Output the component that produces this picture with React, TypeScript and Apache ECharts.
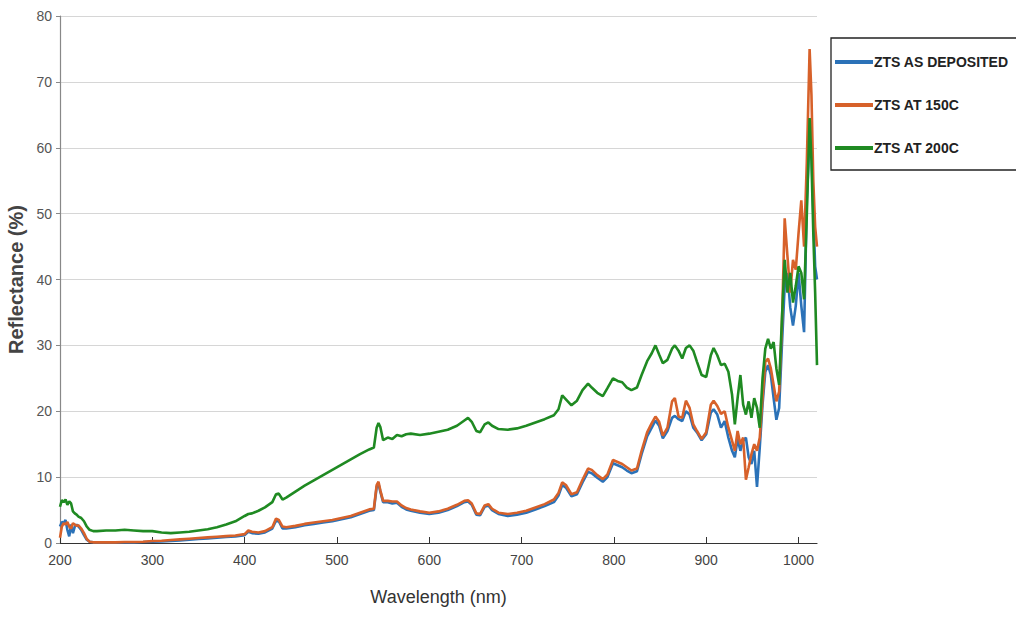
import React, { useEffect, useRef } from "react";
import * as echarts from "echarts";

const wavelengths = [
  200, 202, 204, 206, 208, 210, 212, 214, 216, 218, 220, 223, 226, 229, 232, 236, 240, 250, 260, 270,
  280, 290, 300, 310, 320, 330, 340, 350, 360, 370, 380, 390, 400, 404, 408, 415, 422, 430, 434, 437,
  441, 445, 455, 465, 475, 485, 495, 505, 515, 525, 535, 540, 543, 545, 547, 550, 555, 560, 565, 570,
  575, 580, 590, 600, 610, 620, 630, 638, 642, 646, 651, 655, 660, 664, 668, 675, 685, 695, 705, 715,
  725, 735, 740, 744, 748, 754, 760, 766, 772, 776, 782, 788, 793, 799, 804, 809, 814, 819, 825, 830,
  836, 841, 845, 849, 853, 858, 863, 866, 870, 874, 878, 882, 886, 890, 895, 900, 905, 908, 912, 916,
  920, 924, 928, 931, 934, 937, 940, 943, 946, 949, 952, 955, 958, 961, 964, 967, 970, 973, 976, 979,
  982, 985, 988, 991, 994, 997, 1000, 1003, 1006, 1009, 1012, 1014, 1016, 1018, 1020,
];

const asDeposited = [
  2.5, 3.2, 3.0, 3.5, 2.0, 1.0, 2.8, 1.5, 2.5, 2.8, 2.5, 2.0, 1.2, 0.5, 0.2, 0.1, 0.1, 0.1, 0.1, 0.1,
  0.1, 0.15, 0.2, 0.25, 0.3, 0.4, 0.5, 0.6, 0.7, 0.8, 0.9, 1.0, 1.2, 1.7, 1.5, 1.4, 1.6, 2.2, 3.4, 3.3,
  2.2, 2.2, 2.4, 2.7, 2.9, 3.1, 3.3, 3.6, 3.9, 4.4, 4.9, 5.0, 8.5, 9.0, 7.8, 6.2, 6.2, 6.0, 6.1, 5.5,
  5.1, 4.9, 4.6, 4.4, 4.6, 5.0, 5.6, 6.2, 6.3, 5.8, 4.3, 4.2, 5.5, 5.7, 5.0, 4.4, 4.1, 4.3, 4.6, 5.1,
  5.6, 6.2, 7.2, 8.8, 8.4, 7.1, 7.4, 9.2, 10.8, 10.6, 9.9, 9.3, 10.0, 12.1, 11.8, 11.5, 11.0, 10.6, 10.9, 13.5,
  16.2, 17.5, 18.6, 17.8, 15.9, 17.0, 19.0, 19.3, 18.8, 18.5, 20.0, 19.5, 17.5, 16.8, 15.6, 16.5, 19.8, 20.3, 19.5, 17.5,
  18.5, 16.0, 14.0, 13.0, 15.8, 14.0, 15.5, 16.0, 13.0, 12.0, 14.0, 8.5, 14.5, 21.0, 26.0, 27.0, 25.5, 22.0, 18.7, 20.5,
  30.0, 39.0, 41.0, 35.8, 33.0, 36.0, 41.0, 36.0, 32.0, 52.0, 62.0, 60.0, 50.0, 42.0, 40.0,
];

const at150C = [
  0.8, 2.5, 3.0, 2.8, 3.2, 2.5, 2.2, 3.0, 2.8, 2.6, 2.7, 2.2, 1.5, 0.6, 0.2, 0.1, 0.1, 0.1, 0.1, 0.15,
  0.15, 0.2, 0.3, 0.35, 0.45, 0.55, 0.65, 0.75, 0.85, 0.95, 1.05, 1.15, 1.35, 1.9, 1.7, 1.6, 1.8, 2.4, 3.7, 3.5,
  2.5, 2.4, 2.6, 2.9, 3.1, 3.3, 3.5, 3.8, 4.1, 4.6, 5.1, 5.2, 8.8, 9.3, 8.0, 6.4, 6.4, 6.3, 6.3, 5.7,
  5.3, 5.1, 4.8, 4.6, 4.8, 5.2, 5.8, 6.4, 6.5, 6.0, 4.5, 4.4, 5.7, 5.9, 5.2, 4.6, 4.4, 4.6, 4.9, 5.4,
  5.9, 6.6, 7.6, 9.2, 8.8, 7.4, 7.7, 9.6, 11.3, 11.1, 10.3, 9.7, 10.4, 12.6, 12.3, 12.0, 11.5, 11.0, 11.3, 14.0,
  16.8, 18.2, 19.2, 18.4, 16.3, 17.5, 21.5, 22.0, 19.2, 19.0, 21.6, 20.5, 18.0, 17.0, 15.8, 16.8, 21.0, 21.6, 20.8, 19.6,
  20.0, 17.5, 15.5, 14.0, 17.0, 15.0, 16.0, 9.6, 11.5, 13.5, 15.0, 14.0, 16.0, 22.0, 27.5, 28.0, 26.5, 24.0, 21.5, 23.0,
  33.0, 49.3, 43.5, 38.0, 43.0, 41.5, 47.0, 52.0, 45.0, 58.0, 75.0, 68.0, 55.0, 48.0, 45.0,
];

const at200C = [
  5.5, 6.5, 6.2, 6.6, 5.8, 6.3, 6.0, 4.8, 4.5, 4.3, 4.0, 3.8, 3.3, 2.5, 2.0, 1.8, 1.8, 1.9, 1.9, 2.0,
  1.9, 1.8, 1.8, 1.6, 1.5, 1.6, 1.7, 1.9, 2.1, 2.4, 2.8, 3.3, 4.1, 4.4, 4.5, 4.9, 5.4, 6.2, 7.4, 7.5,
  6.6, 6.9, 7.8, 8.7, 9.5, 10.3, 11.1, 11.9, 12.7, 13.5, 14.2, 14.5, 17.5, 18.2, 17.6, 15.6, 16.0, 15.8, 16.4, 16.2,
  16.5, 16.6, 16.4, 16.6, 16.9, 17.2, 17.8, 18.6, 19.0, 18.4, 17.0, 16.8, 18.0, 18.3, 17.8, 17.3, 17.2, 17.4, 17.8, 18.3,
  18.8, 19.4, 20.3, 22.4, 21.8, 20.9, 21.6, 23.2, 24.2, 23.6, 22.8, 22.3, 23.5, 25.0, 24.6, 24.4, 23.6, 23.2, 23.6, 25.5,
  27.6, 28.8, 30.0, 28.6, 27.3, 27.8, 29.5, 30.0, 29.2, 28.0, 29.6, 30.0, 29.2, 27.5, 25.5, 25.2, 28.5, 29.6, 28.5, 27.0,
  27.2, 26.0, 22.5, 18.0, 22.0, 25.5, 21.0, 19.5, 21.5, 19.0, 22.0, 20.5, 17.5, 25.0, 29.5, 31.0, 29.5, 30.5, 26.5, 24.0,
  34.0, 43.0, 38.0, 41.0, 36.5, 39.0, 42.0, 41.0, 37.0, 50.0, 64.5, 58.0, 47.0, 38.0, 27.0,
];

const seriesNames = ["ZTS AS DEPOSITED", "ZTS AT 150C", "ZTS AT 200C"];
const seriesColors = ["#2b72b8", "#d7612a", "#1f8a22"];
const xTicks = [200, 300, 400, 500, 600, 700, 800, 900, 1000];

export default function App() {
  const ref = useRef<HTMLDivElement>(null);

  useEffect(() => {
    if (!ref.current) return;
    const chart = echarts.init(ref.current, undefined, { renderer: "svg" });
    const values = [asDeposited, at150C, at200C];
    const sans = "'Liberation Sans', Arial, sans-serif";
    chart.setOption({
      animation: false,
      backgroundColor: "#ffffff",
      grid: { left: 60, top: 16, width: 757, height: 527, containLabel: false, outerBoundsMode: "none" },
      graphic: [
        {
          type: "rect",
          z: 0,
          shape: { x: 831, y: 38, width: 200, height: 132 },
          style: { fill: "#ffffff", stroke: "#222222", lineWidth: 1.3 },
        },
      ],
      legend: {
        orient: "vertical",
        left: 835,
        top: 54,
        z: 10,
        padding: 0,
        itemGap: 27,
        itemWidth: 38,
        itemHeight: 4,
        icon: "rect",
        data: seriesNames,
        textStyle: {
          fontFamily: sans,
          fontWeight: "bold",
          fontSize: 14,
          lineHeight: 16,
          color: "#222222",
          padding: [0, 0, 0, -4],
        },
      },
      xAxis: {
        type: "value",
        min: 200,
        max: 1020,
        interval: 100,
        name: "Wavelength (nm)",
        nameLocation: "middle",
        nameGap: 45,
        nameTextStyle: { fontFamily: sans, fontSize: 18, color: "#333333" },
        axisLine: { show: true, lineStyle: { color: "#333333", width: 1.2 } },
        axisTick: { show: true, inside: true, length: 6, lineStyle: { color: "#333333" }, customValues: xTicks },
        axisLabel: {
          fontFamily: sans,
          fontSize: 14,
          color: "#444444",
          margin: 10,
          customValues: xTicks,
          formatter: (v: number) => String(v),
        },
        splitLine: { show: false },
      },
      yAxis: {
        type: "value",
        min: 0,
        max: 80,
        interval: 10,
        name: "Reflectance (%)",
        nameLocation: "middle",
        nameGap: 31,
        nameRotate: 90,
        nameTextStyle: { fontFamily: sans, fontWeight: "bold", fontSize: 20, color: "#444444" },
        axisLine: { show: true, lineStyle: { color: "#888888", width: 1.2 } },
        axisTick: { show: true, inside: false, length: 4, lineStyle: { color: "#888888" } },
        axisLabel: { fontFamily: sans, fontSize: 14, color: "#555555", margin: 8, formatter: (v: number) => String(v) },
        splitLine: { show: true, lineStyle: { color: "#d6d6d6", width: 1 } },
      },
      series: seriesNames.map((name, s) => ({
        name,
        type: "line",
        showSymbol: false,
        symbol: "none",
        color: seriesColors[s],
        lineStyle: { width: 2.6, color: seriesColors[s] },
        data: wavelengths.map((w, i) => [w, values[s][i]]),
        z: 2 + s,
      })),
    });
    return () => chart.dispose();
  }, []);

  return <div ref={ref} style={{ position: "fixed", left: 0, top: 0, width: 1016, height: 617 }} />;
}
